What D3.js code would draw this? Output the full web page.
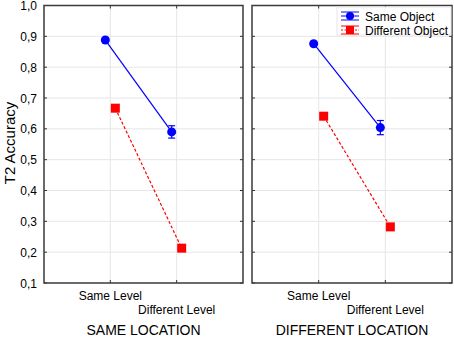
<!DOCTYPE html>
<html>
<head>
<meta charset="utf-8">
<script src="https://cdn.jsdelivr.net/npm/d3@7"></script>
<style>
  body { margin: 0; background: #fff; }
  text { font-family: Arial, "Liberation Sans", sans-serif; fill: #000; }
</style>
</head>
<body>
<script>
// values
var panels = ["SAME LOCATION", "DIFFERENT LOCATION"];
var levels = ["Same Level", "Different Level"];
var sameObject = [[0.888, 0.590], [0.876, 0.604]];
var sameObjectErr = [[0.006, 0.020], [0.005, 0.023]];
var diffObject = [[0.667, 0.213], [0.641, 0.282]];
var diffObjectErr = [[0.006, 0.006], [0.006, 0.006]];
var yTicks = [0.1, 0.2, 0.3, 0.4, 0.5, 0.6, 0.7, 0.8, 0.9, 1.0];

var w = 454, h = 337;
var svg = d3.select("body").append("svg")
  .attr("width", w)
  .attr("height", h);

var y = d3.scaleLinear().domain([0.1, 1.0]).range([283, 5.5]);
var panelX = [[44, 243], [252, 452]];
var fmt = function(d) { return d3.format(".1f")(d).replace(".", ","); };

var blue = "#0000ff", red = "#ff0000";

panels.forEach(function(title, p) {
  var x0 = panelX[p][0], x1 = panelX[p][1];
  var x = d3.scalePoint().domain(levels).range([x0, x1]).padding(1);
  var g = svg.append("g");

  // grid
  g.selectAll(".hgrid").data(yTicks.slice(1, -1)).enter().append("line")
    .attr("x1", x0).attr("x2", x1)
    .attr("y1", function(d) { return y(d); }).attr("y2", function(d) { return y(d); })
    .attr("stroke", "#e6e6e6").attr("stroke-width", 1);
  g.selectAll(".vgrid").data(levels).enter().append("line")
    .attr("x1", function(d) { return x(d); }).attr("x2", function(d) { return x(d); })
    .attr("y1", y(1.0)).attr("y2", y(0.1))
    .attr("stroke", "#e6e6e6").attr("stroke-width", 1);

  // inward ticks
  g.selectAll(".tl").data(yTicks).enter().append("line")
    .attr("x1", x0).attr("x2", x0 + 3)
    .attr("y1", function(d) { return y(d); }).attr("y2", function(d) { return y(d); })
    .attr("stroke", "#333");
  g.selectAll(".tr").data(yTicks).enter().append("line")
    .attr("x1", x1).attr("x2", x1 - 3)
    .attr("y1", function(d) { return y(d); }).attr("y2", function(d) { return y(d); })
    .attr("stroke", "#333");
  g.selectAll(".tb").data(levels).enter().append("line")
    .attr("x1", function(d) { return x(d); }).attr("x2", function(d) { return x(d); })
    .attr("y1", y(0.1)).attr("y2", y(0.1) - 3)
    .attr("stroke", "#333");
  g.selectAll(".tt").data(levels).enter().append("line")
    .attr("x1", function(d) { return x(d); }).attr("x2", function(d) { return x(d); })
    .attr("y1", y(1.0)).attr("y2", y(1.0) + 3)
    .attr("stroke", "#333");

  // frame
  g.append("rect")
    .attr("x", x0).attr("y", y(1.0))
    .attr("width", x1 - x0).attr("height", y(0.1) - y(1.0))
    .attr("fill", "none").attr("stroke", "#3a3a3a").attr("stroke-width", 1.5);

  // category labels
  levels.forEach(function(l, i) {
    g.append("text")
      .attr("x", x(l)).attr("y", i == 0 ? 300 : 314)
      .attr("text-anchor", "middle")
      .style("font-size", "12px")
      .text(l);
  });
  g.append("text")
    .attr("x", (x0 + x1) / 2).attr("y", 335)
    .attr("text-anchor", "middle")
    .style("font-size", "14px")
    .text(title);

  // series
  var series = [
    { vals: sameObject[p], err: sameObjectErr[p], color: blue, off: -5, dash: null, shape: "circle" },
    { vals: diffObject[p], err: diffObjectErr[p], color: red, off: 5, dash: "3,2", shape: "square" }
  ];
  series.forEach(function(s) {
    var pts = levels.map(function(l, i) { return { x: x(l) + s.off, v: s.vals[i], e: s.err[i] }; });
    g.append("path")
      .attr("d", d3.line().x(function(d) { return d.x; }).y(function(d) { return y(d.v); })(pts))
      .attr("fill", "none").attr("stroke", s.color).attr("stroke-width", 1.2)
      .attr("stroke-dasharray", s.dash);
    pts.forEach(function(d) {
      g.append("line").attr("x1", d.x).attr("x2", d.x)
        .attr("y1", y(d.v - d.e)).attr("y2", y(d.v + d.e))
        .attr("stroke", s.color).attr("stroke-width", 1.2);
      [d.v - d.e, d.v + d.e].forEach(function(c) {
        g.append("line").attr("x1", d.x - 3.5).attr("x2", d.x + 3.5)
          .attr("y1", y(c)).attr("y2", y(c))
          .attr("stroke", s.color).attr("stroke-width", 1.2);
      });
      if (s.shape == "circle") {
        g.append("circle").attr("cx", d.x).attr("cy", y(d.v)).attr("r", 4.5).attr("fill", s.color);
      } else {
        g.append("rect").attr("x", d.x - 4.5).attr("y", y(d.v) - 4.5)
          .attr("width", 9).attr("height", 9).attr("fill", s.color);
      }
    });
  });
});

// y axis labels
svg.selectAll(".ylab").data(yTicks).enter().append("text")
  .attr("x", 37).attr("y", function(d) { return y(d) + 4.5; })
  .attr("text-anchor", "end")
  .style("font-size", "12px")
  .text(fmt);

svg.append("text")
  .attr("transform", "translate(15," + 143 + ") rotate(-90)")
  .attr("text-anchor", "middle")
  .style("font-size", "15px")
  .text("T2 Accuracy");

// legend
var leg = svg.append("g");
leg.append("rect").attr("x", 337).attr("y", 7).attr("width", 114).attr("height", 28)
  .attr("fill", "#fff").attr("stroke", "#e6e6e6");
var legItems = [
  { name: "Same Object", color: blue, dash: null, shape: "circle" },
  { name: "Different Object", color: red, dash: "2,1.5", shape: "square" }
];
legItems.forEach(function(it, i) {
  var cy = 16 + i * 14;
  [-4, 0, 4].forEach(function(o) {
    leg.append("line").attr("x1", 341).attr("x2", 359)
      .attr("y1", cy + o).attr("y2", cy + o)
      .attr("stroke", it.color).attr("stroke-width", 1)
      .attr("stroke-dasharray", o == 0 ? it.dash : null);
  });
  if (it.shape == "circle") {
    leg.append("circle").attr("cx", 350).attr("cy", cy).attr("r", 4).attr("fill", it.color);
  } else {
    leg.append("rect").attr("x", 346).attr("y", cy - 4).attr("width", 8).attr("height", 8).attr("fill", it.color);
  }
  leg.append("text").attr("x", 365).attr("y", cy + 4.5)
    .style("font-size", "12px").text(it.name);
});
</script>
</body>
</html>
